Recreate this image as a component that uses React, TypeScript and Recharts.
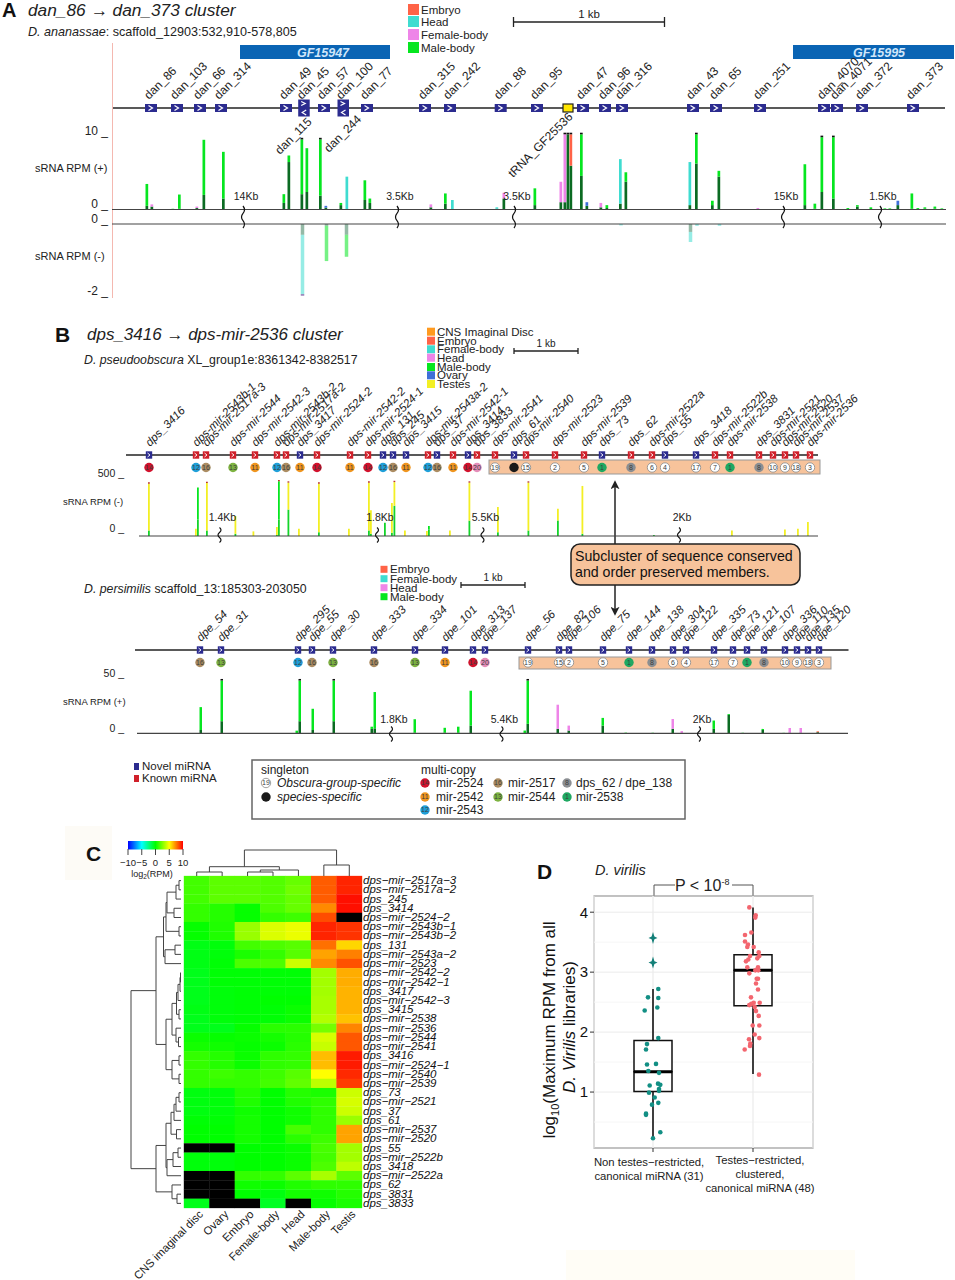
import {
  BarChart, Bar, Cell, ScatterChart, Scatter, XAxis, YAxis, ReferenceLine, CartesianGrid,
} from 'recharts';

// tissue colours, shared by the tracks and legends
const TISSUE: Record<string, string> = {
  C: '#ff9a1f', E: '#ff6347', H: '#3fdcd0', F: '#ee85e8', M: '#06e620', O: '#3f6fd8', T: '#f3ef24',
};
const codes = (s: string) => s.replace(/ /g, '').split('');

// ---- panel A, D. ananassae
const anaGeneNames = ['dan_86', 'dan_103', 'dan_66', 'dan_314', 'dan_49', 'dan_45', 'dan_57', 'dan_100', 'dan_77', 'dan_315', 'dan_242', 'dan_88', 'dan_95', '', 'dan_47', 'dan_96', 'dan_316', 'dan_43', 'dan_65', 'dan_251', 'dan_4070', 'dan_4071', 'dan_372', 'dan_373'];
const anaGenePos = [151, 177, 200, 221, 286, 303.7, 324, 343, 367, 425, 450, 500.7, 537, 568, 583, 605, 622, 693, 716, 760, 824, 837, 862, 913];
const anaGeneKind = codes('SSSSS DSDSS SSSYS SSSSS SSSS');

const anaPlusPos = [147, 152, 173, 179.5, 197, 204, 223.5, 284, 289, 302, 307, 320.5, 326, 341, 347, 365, 370, 431, 445.5, 452.5, 497, 504, 535, 561, 565, 568, 571, 581.5, 587, 601, 607, 620.5, 626, 690, 696.5, 712.5, 719, 758, 805, 815, 822, 833.5, 848, 857.5, 871, 898, 912, 925, 935, 885, 890, 918, 942];
const anaPlusPeak = [3.5, 0.7, 0.1, 2.05, 0.4, 9.55, 7.9, 2.1, 7.4, 9.6, 8.4, 9.6, 0.5, 0.9, 4.5, 4, 1.5, 0.7, 2.2, 1.3, 0.3, 2.3, 2.9, 3.8, 10.3, 10.3, 10.3, 10.3, 1, 0.9, 0.6, 6.9, 5.1, 6.5, 10.3, 1.2, 5.3, 0.2, 6.2, 0.8, 9.9, 9.9, 0.2, 0.6, 0.3, 1.2, 2.2, 0.3, 0.4, 0.15, 0.15, 0.2, 0.15];
const anaPlusBase = [0.5, 0.4, 0, 0.1, 0.2, 2, 1.5, 0.9, 6.5, 2.1, 2.4, 1.9, 0.25, 0.6, 0.05, 1.3, 0.9, 0.3, 0.8, 0, 0.1, 1.5, 0.6, 1, 1, 10.3, 6, 4.6, 0.5, 0.3, 0.2, 0.8, 3.8, 0.6, 6.3, 0.6, 4.5, 0, 0.6, 0.1, 2.4, 1.5, 0, 0.4, 0, 0.6, 0.1, 0.1, 0.1, 0, 0, 0, 0];
const anaPlusTissue = codes('MFMMF MMMMM MMOMH MMFMH HFMFF MEMOF MHMHM MMFMM MMMMM OMMM MMMM');

const anaMinusPos = [302, 326, 346, 620.5, 690, 696.5, 719];
const anaMinusPeak = [-1.95, -1.03, -0.91, -0.04, -0.5, -0.05, -0.05];
const anaMinusBase = [-0.3, -0.05, -0.3, 0, -0.22, 0, 0];
const anaMinusTissue = codes('HMMHHHH');

const anaBreakPos = [243, 397, 514, 783, 880];
const anaBreakLabels = ['14Kb', '3.5Kb', '3.5Kb', '15Kb', '1.5Kb'];

// ---- panel B, D. pseudoobscura
const pseGeneNames = ['dps_3416', 'dps-mir-2543b-1', 'dps-mir-2517a-3', 'dps-mir-2544', 'dps-mir-2542-3', 'dps-mir-2543b-2', 'dps-mir-2517a-2', 'dps_3417', 'dps-mir-2524-2', 'dps-mir-2542-2', 'dps-mir-2524-1', 'dps_131', 'dps_245', 'dps_3415', 'dps-mir-2543a-2', 'dps_37', 'dps-mir-2542-1', 'dps_3414', 'dps_3833', 'dps-mir-2541', 'dps_61', 'dps-mir-2540', 'dps-mir-2523', 'dps-mir-2539', 'dps_73', 'dps_62', 'dps-mir-2522a', 'dps_55', 'dps_3418', 'dps-mir-2522b', 'dps-mir-2538', 'dps_3831', 'dps-mir-2521', 'dps-mir-2520', 'dps-mir-2537', 'dps-mir-2536'];
const pseGenePos = [149, 196, 206, 233, 255, 277, 286, 300, 317, 350, 368, 383, 393, 406, 428, 437, 453, 468, 477, 495, 514, 526, 555, 584, 602, 631, 652, 665, 696, 715, 730, 759, 773, 785, 796, 810];
const pseGeneKind = codes('NKKKK KKNKK KNNNK NKNKK NKKKN KKNNK KKKKK K');
const pseBadges = [14, 12, 16, 13, 11, 12, 16, 11, 14, 11, 14, 12, 16, 11, 12, 16, 11, 14, 20, 19, 0, 15, 2, 5, 1, 8, 6, 4, 17, 7, 1, 8, 10, 9, 18, 3];

const psePos = [149, 196, 198, 207, 235.5, 253.5, 277, 279, 288.5, 299, 319, 349, 369, 371, 385, 392, 394.5, 405, 427, 429, 450, 469.5, 498, 528.5, 558, 582.5, 654, 732, 785, 798, 808];
const psePeak = [476, 67, 440, 482, 182, 42, 82, 497, 485, 67, 476, 67, 485, 233, 120, 300, 490, 50, 45, 90, 50, 485, 264, 485, 248, 455, 10, 50, 60, 67, 127];
const pseBase = [50, 0, 150, 50, 20, 0, 10, 150, 240, 0, 35, 0, 50, 20, 120, 30, 275, 0, 0, 60, 0, 140, 35, 50, 142, 20, 10, 5, 5, 5, 5];
const pseTissue = codes('TTMTT TTMTT TTTTM TTTTM TTTTT TMTTT T');
const pseBreakPos = [219.5, 377, 482.5, 679];
const pseBreakLabels = ['1.4Kb', '1.8Kb', '5.5Kb', '2Kb'];

// ---- panel B, D. persimilis
const perGeneNames = ['dpe_54', 'dpe_31', 'dpe_295', 'dpe_55', 'dpe_30', 'dpe_333', 'dpe_334', 'dpe_101', 'dpe_313', 'dpe_137', 'dpe_56', 'dpe_82', 'dpe_106', 'dpe_75', 'dpe_144', 'dpe_138', 'dpe_304', 'dpe_122', 'dpe_335', 'dpe_73', 'dpe_121', 'dpe_107', 'dpe_336', 'dpe_110', 'dpe_135', 'dpe_120'];
const perGenePos = [200, 221, 298, 312, 333, 374, 415, 445, 473, 485, 528, 559, 569, 603, 629, 652, 673, 686, 714, 733, 747, 764, 785, 797, 808, 819];
const perBadges = [16, 13, 12, 16, 13, 16, 13, 11, 14, 20, 19, 15, 2, 5, 1, 8, 6, 4, 17, 7, 1, 8, 10, 9, 18, 3];

const perPos = [201, 222, 297, 300, 313, 334, 372, 375, 415, 445, 458.5, 471, 525, 528, 558, 569, 603, 626, 653, 673, 682, 714, 729, 743, 763, 784, 790, 801, 818];
const perPeak = [23.8, 48, 2.4, 48, 22.3, 48, 6, 37.5, 12.8, 5, 6, 38.7, 2.5, 48, 26, 7, 14, 0.6, 0.5, 13, 2, 11.6, 17.5, 0.5, 4, 0.4, 4.8, 4.8, 1.8];
const perBase = [3, 11, 0, 11, 3, 11, 4, 4.5, 0.5, 0.5, 0.5, 7, 0, 8.6, 4, 2.5, 7, 0.3, 0.3, 4, 0.3, 4, 16.7, 0.3, 3, 0.2, 0.5, 0.5, 1];
const perTissue = codes('MMMMM MMMMM MMMMF FMMMF FMMMM MFFE');
const perBreakPos = [391, 501.5, 699];
const perBreakLabels = ['1.8Kb', '5.4Kb', '2Kb'];

// ---- panel C heat map
const heatRows = ['dps-mir-2517a-3', 'dps-mir-2517a-2', 'dps_245', 'dps_3414', 'dps-mir-2524-2', 'dps-mir-2543b-1', 'dps-mir-2543b-2', 'dps_131', 'dps-mir-2543a-2', 'dps-mir-2523', 'dps-mir-2542-2', 'dps-mir-2542-1', 'dps_3417', 'dps-mir-2542-3', 'dps_3415', 'dps-mir-2538', 'dps-mir-2536', 'dps-mir-2544', 'dps-mir-2541', 'dps_3416', 'dps-mir-2524-1', 'dps-mir-2540', 'dps-mir-2539', 'dps_73', 'dps-mir-2521', 'dps_37', 'dps_61', 'dps-mir-2537', 'dps-mir-2520', 'dps_55', 'dps-mir-2522b', 'dps_3418', 'dps-mir-2522a', 'dps_62', 'dps_3831', 'dps_3833'];
const heatCols = ['CNS imaginal disc', 'Ovary', 'Embryo', 'Female-body', 'Head', 'Male-body', 'Testis'];
const heatCns = [1.3, 1.3, 1.3, 1, 1, 0.1, 0.1, -0.4, -0.4, -0.4, -0.5, -0.5, -0.5, -0.5, -0.4, -0.5, -0.5, 0.2, 0.4, 1, 1, 1, 1, -0.3, -0.3, -0.3, -0.1, 0, 0, null, -0.2, -0.2, null, null, null, -0.5];
const heatOvary = [1.8, 1.8, 1.8, 0.7, 0.7, 0.6, 0.6, -0.2, -0.2, -0.1, -0.1, -0.1, -0.2, -0.2, -0.2, -0.2, -0.5, 0.1, 0.3, 0.7, 0.7, 1.2, 1, -0.2, -0.2, -0.2, -0.1, 0, 0, null, -0.2, -0.2, null, null, null, null];
const heatEmbryo = [1.8, 1.8, 1.8, 0.1, 0.1, 3, 3, 1.3, 0.5, 1.5, -0.1, -0.1, -0.1, -0.1, -0.1, -0.1, 0.1, 0.2, 0.1, 0.2, 0.2, 1, 1, 0.7, 0.6, 0.3, 0.4, 0.4, 0.4, 0, 0, 0, 1, 0.3, 0, null];
const heatFemale = [1.6, 1.6, 1.6, 1.5, 1, 4.3, 4.3, 1.5, 1, 1.5, -0.1, -0.1, -0.1, 0, -0.1, -0.1, 0.8, 0.4, 0.2, 0.9, 0.9, 1.2, 1.3, 0, 0, 0, 0, 0, 0, 0, 0, 0, 1, 0.2, -0.3, -0.7];
const heatHead = [2, 2.2, 2, 2, 1.2, 4.6, 4.6, 1.7, 1.7, 4, -0.1, -0.1, -0.1, 0, 0.2, 0.2, 0.8, 0.7, 0.8, 1, 1, 1.7, 1.9, 0.7, 0.6, 0.3, 0.3, 1.4, 0.8, 0.2, 0.2, 0.2, 1.8, 0.6, 0.4, null];
const heatMale = [8.2, 8.2, 8.2, 7.3, 8.5, 9.3, 9.3, 7.8, 6.8, 7.3, 3.2, 3.2, 3.2, 3.3, 3.3, 3.5, 2.3, 4.2, 3.9, 6.3, 6.3, 5, 3.7, 0.5, 0.9, 0.9, 0.9, 0.9, 1.2, 1.4, 1.3, 1.5, 3.3, 0.9, 0.3, 0.1];
const heatTestis = [9.3, 9.3, 9.7, 9.7, null, 9, 9, 5.8, 7.5, 8.4, 6.6, 6.6, 6.5, 6.5, 6.5, 6.2, 7.4, 8.3, 8.3, 9.5, 9.5, 9.2, 8.8, 4, 4.2, 4, 3, 6.8, 6.8, 3.2, 3.2, 3.7, 1.8, 0.9, 0.7, 0.5];
const heatColumns = [heatCns, heatOvary, heatEmbryo, heatFemale, heatHead, heatMale, heatTestis];

// dendrograms: [height, left, right], a bare number is a leaf index
type Tree = number | [number, Tree, Tree];
const rowTree: Tree = [50,
  [25,
    [17.5,
      [15, [14, [5, [2, 0, 1], 2], [7, 3, 4]], [2, 5, 6]],
      [16, [6, 7, 8], 9]],
    [15,
      [9, [4.5, [3, [1, [0.5, 10, 11], 12], 13], [2, 14, 15]], [5, 16, [2.5, 17, 18]]],
      [9, [2, 19, 20], [2, 21, 22]]]],
  [25,
    [15,
      [10, [7, [5, [2, 23, 24], 25], 26], [4.5, 27, 28]],
      [14, [8, [3, 29, 30], 31], 32]],
    [9, 33, [4, 34, 35]]]];
const colTree: Tree = [26, [9.3, [4, 0, 1], [6, [4, 2, 3], 4]], [11, 5, 6]];

// ---- panel D box plot
const boxX = [1, 2];
const boxQ1 = [1.01, 2.44];
const boxMedian = [1.34, 3.03];
const boxQ3 = [1.86, 3.29];
const whiskerLow = [0.2, 1.3];
const whiskerHigh = [2.72, 4.08];
const nonTestesX = [1.053, 0.95, 1.053, 1.043, 0.917, 1.053, 0.94, 0.93, 0.94, 1.03, 0.953, 1.06, 1.05, 1.073, 0.967, 1.06, 1.06, 0.96, 1.017, 1.053, 0.99, 0.93, 0.93, 1.073, 1.0];
const nonTestesY = [2.72, 2.58, 2.57, 2.41, 2.36, 1.9, 1.8, 1.71, 1.46, 1.47, 1.35, 1.32, 1.14, 1.12, 1.11, 1.05, 1.02, 0.99, 0.91, 0.82, 0.79, 0.64, 0.62, 0.33, 0.23];
const outlierY = [3.57, 3.16];
const testesX = [1.963, 2.027, 2.023, 1.983, 1.92, 1.92, 1.95, 1.943, 2.007, 2.057, 1.97, 2.063, 2.043, 1.93, 1.953, 1.943, 2.05, 2.023, 2.053, 1.963, 2.037, 2.05, 2.03, 2.05, 1.98, 2.067, 2.007, 1.983, 1.963, 2.017, 2.03, 2.057, 1.997, 2.063, 2.017, 2.063, 1.96, 1.973, 1.97, 1.917, 2.06];
const testesY = [4.08, 3.95, 3.91, 3.66, 3.62, 3.51, 3.46, 3.42, 3.42, 3.33, 3.27, 3.27, 3.23, 3.18, 3.21, 3.08, 3.08, 3.03, 3.03, 2.98, 2.89, 2.89, 2.81, 2.71, 2.58, 2.49, 2.49, 2.47, 2.45, 2.42, 2.35, 2.27, 2.11, 2.11, 1.96, 1.9, 1.88, 1.81, 1.77, 1.71, 1.29];
const boxLabels = [
  ['Non testes−restricted,', 'canonical miRNA (31)'],
  ['Testes−restricted,', 'clustered,', 'canonical miRNA (48)'],
];

// ---- helpers
const NOMARGIN = { top: 0, right: 0, bottom: 0, left: 0 };
const BADGE: Record<number, string> = { 14: '#d2112c', 12: '#1f9fd8', 16: '#ab8c62', 13: '#7db341', 11: '#ef951f', 20: '#e48db8', 1: '#1fa862', 8: '#8b8e92', 0: '#1a1a1a' };

function Badge({ cx, cy, n, r = 4.7 }: { cx: number; cy: number; n: number; r?: number }) {
  const fill = BADGE[n];
  return (
    <g>
      <circle cx={cx} cy={cy} r={r} fill={fill || '#fff'} stroke={fill ? 'none' : '#888'} strokeWidth={0.8} />
      {n !== 0 && <text x={cx} y={cy + 2.4} textAnchor="middle" fontSize={7} fill="#3c3c3c">{n}</text>}
    </g>
  );
}

function GeneRow({ y, pos, names, kinds, badges, from, to, big }: any) {
  const rows = pos.map((x: number, i: number) => ({ x, y: 0, name: names[i], kind: kinds[i], badge: badges ? badges[i] : null }));
  const H = 240;
  const draw = (p: any) => {
    const { cx, cy, payload: d } = p;
    const italic = big ? 'normal' : 'italic';
    const lx = big ? cx - 2 : cx + 1;
    const ly = cy - 8;
    let box;
    if (big) {
      if (d.kind === 'Y') {
        box = <rect x={cx - 5} y={cy - 4} width={10} height={8} fill="#ffe600" stroke="#222" strokeWidth={1.2} />;
      } else if (d.kind === 'D') {
        box = (
          <g>
            <rect x={cx - 5.5} y={cy - 8.5} width={11.5} height={17} fill="#2b2b8f" />
            <path d={`M${cx - 2.5} ${cy - 6.5}l4 2l-4 2`} fill="none" stroke="#fff" strokeWidth={1.2} />
            <path d={`M${cx + 2.5} ${cy + 2}l-4 2.5l4 2.5`} fill="none" stroke="#fff" strokeWidth={1.2} />
          </g>
        );
      } else {
        box = (
          <g>
            <rect x={cx - 6} y={cy - 4} width={12} height={8} fill="#2b2b8f" />
            <path d={`M${cx - 2.5} ${cy - 2.5}l4 2.5l-4 2.5`} fill="none" stroke="#fff" strokeWidth={1.2} />
          </g>
        );
      }
    } else {
      box = (
        <g>
          <rect x={cx - 3.2} y={cy - 3.7} width={6.4} height={7.4} fill={d.kind === 'N' ? '#2b2b8f' : '#d0202a'} />
          <path d={`M${cx - 1.5} ${cy - 2}l2.5 2l-2.5 2`} fill="none" stroke="#fff" strokeWidth={0.9} />
        </g>
      );
    }
    return (
      <g>
        {box}
        <text x={lx} y={ly} fontSize={big ? 12 : 11.5} fontStyle={italic} fill="#222" transform={`rotate(-45 ${lx} ${ly})`}>{d.name}</text>
        {d.badge !== null && <Badge cx={cx} cy={cy + 12.5} n={d.badge} />}
      </g>
    );
  };
  return (
    <div style={{ position: 'absolute', left: 0, top: y - H / 2 }}>
      <ScatterChart width={955} height={H} margin={NOMARGIN}>
        <XAxis type="number" dataKey="x" domain={[0, 955]} hide />
        <YAxis type="number" dataKey="y" domain={[-1, 1]} hide width={0} />
        <ReferenceLine segment={[{ x: from, y: 0 }, { x: to, y: 0 }]} stroke="#222" strokeWidth={1.5} ifOverflow="visible" />
        <Scatter data={rows} isAnimationActive={false} shape={draw} />
      </ScatterChart>
    </div>
  );
}

function Track({ top, bottom, zeroY, ppu, left, ticks, tickDx, tickDy, tickSize, pos, peak, base, tissue, barSize, baseFill, capAt, capSize, capFill, from, to, opacity = 1 }: any) {
  const rows = pos.map((x: number, i: number) => ({
    x,
    base: base[i],
    rest: peak[i] - base[i],
    cap: Math.abs(peak[i]) >= capAt ? Math.sign(peak[i]) * capSize : 0,
    tissue: tissue[i],
  }));
  const tick = (p: any) => (
    <text x={p.x + tickDx} y={p.y + tickDy} textAnchor="end" fontSize={tickSize} fill="#222">{`${p.payload.value} _`}</text>
  );
  return (
    <div style={{ position: 'absolute', left: 0, top }}>
      <BarChart width={955} height={bottom - top} data={rows} margin={NOMARGIN} barSize={barSize}>
        <XAxis type="number" dataKey="x" domain={[left, 955]} hide />
        <YAxis type="number" width={left} domain={[(zeroY - bottom) / ppu, (zeroY - top) / ppu]} ticks={ticks} interval={0} axisLine={false} tickLine={false} tick={tick} />
        <Bar dataKey="base" stackId="s" fill={baseFill} fillOpacity={opacity} isAnimationActive={false} />
        <Bar dataKey="rest" stackId="s" fillOpacity={opacity} isAnimationActive={false}>
          {rows.map((r: any, i: number) => <Cell key={i} fill={TISSUE[r.tissue]} />)}
        </Bar>
        <Bar dataKey="cap" stackId="s" fill={capFill} isAnimationActive={false} />
        <ReferenceLine segment={[{ x: from, y: 0 }, { x: to, y: 0 }]} stroke="#444" strokeWidth={1.2} ifOverflow="visible" />
      </BarChart>
    </div>
  );
}

function Breaks({ y, pos, labels, tall, labelDy, labelDx = 3 }: any) {
  const rows = pos.map((x: number, i: number) => ({ x, y: 0, label: labels[i] }));
  const H = 80;
  const draw = (p: any) => {
    const { cx, cy, payload } = p;
    const seg = tall / 3;
    return (
      <g>
        <path d={`M${cx} ${cy - tall / 2}q3 ${seg / 2} 0 ${seg}q-3 ${seg / 2} 0 ${seg}q3 ${seg / 2} 0 ${seg}`} fill="none" stroke="#111" strokeWidth={1.2} />
        <text x={cx + labelDx} y={cy + labelDy} textAnchor="middle" fontSize={10.5} fill="#222">{payload.label}</text>
      </g>
    );
  };
  return (
    <div style={{ position: 'absolute', left: 0, top: y - H / 2 }}>
      <ScatterChart width={955} height={H} margin={NOMARGIN}>
        <XAxis type="number" dataKey="x" domain={[0, 955]} hide />
        <YAxis type="number" dataKey="y" domain={[-1, 1]} hide width={0} />
        <Scatter data={rows} isAnimationActive={false} shape={draw} />
      </ScatterChart>
    </div>
  );
}

// log2(RPM) colour key: blue, cyan, green, yellow, red
const RAMP = [[0, 0, 255], [0, 255, 255], [0, 255, 0], [255, 255, 0], [255, 0, 0]];
function heatColor(v: number | null) {
  if (v === null) return '#000';
  const t = Math.min(3.999, (v + 10) / 5);
  const i = Math.floor(t);
  const f = t - i;
  const c = RAMP[i].map((a, k) => Math.round(a + (RAMP[i + 1][k] - a) * f));
  return `rgb(${c.join(',')})`;
}

function treeLinks(tree: Tree) {
  const out: { pos: number; h: number }[][] = [];
  const walk = (n: Tree): { pos: number; h: number } => {
    if (typeof n === 'number') return { pos: n + 0.5, h: 0 };
    const a = walk(n[1]);
    const b = walk(n[2]);
    out.push([a, { pos: a.pos, h: n[0] }, { pos: b.pos, h: n[0] }, b]);
    return { pos: (a.pos + b.pos) / 2, h: n[0] };
  };
  walk(tree);
  return out;
}

const noDot = () => <g />;

function HeatMap() {
  const cells = heatColumns.flatMap((vals, c) => vals.map((v, r) => ({ col: c + 0.5, row: r + 0.5, v })));
  const rowTick = (p: any) => (
    <text x={p.x - 7} y={p.y + 3.5} fontSize={11.5} fontStyle="italic" fill="#111">{heatRows[Math.floor(p.payload.value)].replace(/-/g, '−')}</text>
  );
  const colTick = (p: any) => (
    <text x={p.x + 7} y={p.y - 1} fontSize={11.3} textAnchor="end" fill="#222" transform={`rotate(-45 ${p.x + 7} ${p.y - 1})`}>{heatCols[Math.floor(p.payload.value)]}</text>
  );
  const cell = (p: any) => (
    <rect x={p.cx - 12.9} y={p.cy - 4.75} width={25.8} height={9.5} fill={heatColor(p.payload.v)} />
  );
  return (
    <div style={{ position: 'absolute', left: 83.5, top: 868 }}>
      <ScatterChart width={378} height={420} margin={{ top: 8, right: 0, bottom: 0, left: 100 }}>
        <XAxis type="number" dataKey="col" domain={[0, 7]} ticks={heatCols.map((_, i) => i + 0.5)} interval={0} height={80} axisLine={false} tickLine={false} tick={colTick} />
        <YAxis type="number" dataKey="row" orientation="right" reversed domain={[0, 36]} ticks={heatRows.map((_, i) => i + 0.5)} interval={0} width={100} axisLine={false} tickLine={false} tick={rowTick} />
        <Scatter data={cells} isAnimationActive={false} shape={cell} />
      </ScatterChart>
    </div>
  );
}

function Dendrograms() {
  const rowLinks = treeLinks(rowTree);
  const colLinks = treeLinks(colTree);
  const line = { stroke: '#444', strokeWidth: 1 };
  return (
    <>
      <div style={{ position: 'absolute', left: 129, top: 876 }}>
        <ScatterChart width={52} height={332} margin={NOMARGIN}>
          <XAxis type="number" dataKey="h" domain={[0, 52]} reversed hide />
          <YAxis type="number" dataKey="pos" domain={[0, 36]} reversed hide width={0} />
          {rowLinks.map((l, i) => <Scatter key={i} data={l} line={line} shape={noDot} isAnimationActive={false} />)}
        </ScatterChart>
      </div>
      <div style={{ position: 'absolute', left: 183.5, top: 849 }}>
        <ScatterChart width={178} height={27} margin={NOMARGIN}>
          <XAxis type="number" dataKey="pos" domain={[0, 7]} hide />
          <YAxis type="number" dataKey="h" domain={[0, 27]} hide width={0} />
          {colLinks.map((l, i) => <Scatter key={i} data={l} line={line} shape={noDot} isAnimationActive={false} />)}
        </ScatterChart>
      </div>
    </>
  );
}

const BOX_X_DOMAIN = [0.41, 2.6];
const BOX_Y_DOMAIN = [0.067, 4.27];
const BOX_W = 303;
const BOX_H = 312;

// three layers on the same scales: grid + whiskers, boxes, medians + points
function BoxPlot() {
  const rows = boxX.map((x, i) => ({ x, base: boxQ1[i], low: boxMedian[i] - boxQ1[i], high: boxQ3[i] - boxMedian[i] }));
  const inner = { top: 0, right: 30, bottom: 60, left: 54 };
  const xTick = (p: any) => {
    const i = p.payload.value - 1;
    const cx = p.x + (i === 0 ? -4 : 7);
    return (
      <g>
        <line x1={p.x} x2={p.x} y1={p.y - 8} y2={p.y - 4} stroke="#333" />
        {boxLabels[i].map((t, k) => (
          <text key={k} x={cx} y={p.y + (i === 0 ? 10 : 8) + k * 14} textAnchor="middle" fontSize={11.3} fill="#222">{t}</text>
        ))}
      </g>
    );
  };
  const dot = (fill: string) => (p: any) => <circle cx={p.cx} cy={p.cy} r={2.3} fill={fill} />;
  const star = (p: any) => (
    <path d={`M${p.cx} ${p.cy - 6}L${p.cx + 1.4} ${p.cy - 1.4}L${p.cx + 4.5} ${p.cy}L${p.cx + 1.4} ${p.cy + 1.4}L${p.cx} ${p.cy + 6}L${p.cx - 1.4} ${p.cy + 1.4}L${p.cx - 4.5} ${p.cy}L${p.cx - 1.4} ${p.cy - 1.4}Z`} fill="#137f78" />
  );
  const layer = { position: 'absolute', left: 540, top: 896 } as const;
  return (
    <>
      <div style={layer}>
        <ScatterChart width={BOX_W} height={BOX_H} margin={{ top: 0, right: 30, bottom: 0, left: 0 }}>
          <CartesianGrid horizontalValues={[0.5, 1.5, 2.5, 3.5]} verticalValues={[]} stroke="#f6f6f6" />
          <CartesianGrid horizontalValues={[1, 2, 3, 4]} verticalValues={[1, 2]} stroke="#ebebeb" />
          <XAxis type="number" dataKey="x" domain={BOX_X_DOMAIN} ticks={[1, 2]} height={60} axisLine={false} tickLine={false} tick={xTick} />
          <YAxis type="number" dataKey="y" domain={BOX_Y_DOMAIN} ticks={[1, 2, 3, 4]} width={54} axisLine={false} tickSize={4} tick={{ fontSize: 15, fill: '#111' }} stroke="#333" />
          {boxX.map((x, i) => (
            <Scatter key={i} data={[{ x, y: whiskerLow[i] }, { x, y: whiskerHigh[i] }]} line={{ stroke: '#111', strokeWidth: 1.6 }} shape={noDot} isAnimationActive={false} />
          ))}
        </ScatterChart>
      </div>
      <div style={layer}>
        <BarChart width={BOX_W} height={BOX_H} data={rows} margin={inner} barSize={38}>
          <XAxis type="number" dataKey="x" domain={BOX_X_DOMAIN} hide />
          <YAxis type="number" domain={BOX_Y_DOMAIN} hide allowDataOverflow />
          <Bar dataKey="base" stackId="b" fill="none" isAnimationActive={false} />
          <Bar dataKey="low" stackId="b" fill="#fff" stroke="#111" strokeWidth={1.5} isAnimationActive={false} />
          <Bar dataKey="high" stackId="b" fill="#fff" stroke="#111" strokeWidth={1.5} isAnimationActive={false} />
        </BarChart>
      </div>
      <div style={layer}>
        <ScatterChart width={BOX_W} height={BOX_H} margin={inner}>
          <XAxis type="number" dataKey="x" domain={BOX_X_DOMAIN} hide />
          <YAxis type="number" dataKey="y" domain={BOX_Y_DOMAIN} hide />
          {boxX.map((x, i) => (
            <Scatter key={i} data={[{ x: x - 0.19, y: boxMedian[i] }, { x: x + 0.19, y: boxMedian[i] }]} line={{ stroke: '#000', strokeWidth: 3 }} shape={noDot} isAnimationActive={false} />
          ))}
          <Scatter data={nonTestesX.map((x, i) => ({ x, y: nonTestesY[i] }))} shape={dot('#128f84')} isAnimationActive={false} />
          <Scatter data={outlierY.map((y) => ({ x: 1, y }))} shape={star} isAnimationActive={false} />
          <Scatter data={testesX.map((x, i) => ({ x, y: testesY[i] }))} shape={dot('#f3666f')} isAnimationActive={false} />
        </ScatterChart>
      </div>
    </>
  );
}

function Legend({ x, tx, ys, names, keys, s, size }: any) {
  return (
    <g>
      {names.map((n: string, i: number) => (
        <g key={n}>
          <rect x={x} y={ys[i] - s / 2} width={s} height={s} fill={TISSUE[keys[i]]} />
          <text x={tx} y={ys[i] + 4} fontSize={size} fill="#222">{n}</text>
        </g>
      ))}
    </g>
  );
}

function ScaleBar({ x1, x2, y, tick, size }: any) {
  return (
    <g stroke="#222" strokeWidth={1.3}>
      <line x1={x1} x2={x2} y1={y} y2={y} />
      <line x1={x1} x2={x1} y1={y - tick} y2={y + tick} />
      <line x1={x2} x2={x2} y1={y - tick} y2={y + tick} />
      <text x={(x1 + x2) / 2} y={y - 4} textAnchor="middle" fontSize={size} fill="#222" stroke="none">1 kb</text>
    </g>
  );
}

function Annotations() {
  const rotated = (x: number, y: number, t: string, size = 12) => (
    <text x={x} y={y} fontSize={size} fill="#222" transform={`rotate(-45 ${x} ${y})`}>{t}</text>
  );
  return (
    <svg width={955} height={1280} style={{ position: 'absolute', left: 0, top: 0 }}>
      <defs>
        <linearGradient id="ramp">
          <stop offset="0" stopColor="#0000ff" />
          <stop offset="0.25" stopColor="#00ffff" />
          <stop offset="0.5" stopColor="#00ff00" />
          <stop offset="0.75" stopColor="#ffff00" />
          <stop offset="1" stopColor="#ff0000" />
        </linearGradient>
        <marker id="arrow" viewBox="0 0 10 10" refX="8" refY="5" markerWidth="6" markerHeight="6" orient="auto">
          <path d="M0 0L10 5L0 10L2.5 5Z" fill="#222" />
        </marker>
      </defs>

      {/* faint paper patches in the scan */}
      <rect x={65} y={826} width={47} height={54} fill="#fdfbf6" />
      <rect x={566} y={1250} width={289} height={30} fill="#fffdf6" />

      {/* panel A */}
      <text x={2} y={17} fontSize={20} fontWeight="bold" fill="#111">A</text>
      <text x={28} y={16} fontSize={17.3} fontStyle="italic" fill="#222">dan_86 → dan_373 cluster</text>
      <text x={28} y={36} fontSize={12.6} fill="#222"><tspan fontStyle="italic">D. ananassae</tspan>: scaffold_12903:532,910-578,805</text>
      <Legend x={408} tx={421} ys={[9.5, 21.5, 34.5, 47.5]} names={['Embryo', 'Head', 'Female-body', 'Male-body']} keys={['E', 'H', 'F', 'M']} s={11} size={11.5} />
      <ScaleBar x1={513.5} x2={664.5} y={22} tick={5} size={11.5} />
      <rect x={240} y={45} width={150} height={14} fill="#0a64b4" />
      <text x={323} y={57} fontSize={12.5} fontWeight="bold" fontStyle="italic" fill="#cfe6fa" textAnchor="middle">GF15947</text>
      <rect x={793} y={45} width={161} height={14} fill="#0a64b4" />
      <text x={879} y={57} fontSize={12.5} fontWeight="bold" fontStyle="italic" fill="#cfe6fa" textAnchor="middle">GF15995</text>
      <line x1={112.5} x2={112.5} y1={43} y2={298} stroke="#f4b8b0" strokeWidth={1} />
      <text x={35} y={172} fontSize={11} fill="#222">sRNA RPM (+)</text>
      <text x={35} y={260} fontSize={11} fill="#222">sRNA RPM (-)</text>
      {rotated(280, 155, 'dan_115')}
      {rotated(329, 153, 'dan_244')}
      {rotated(513, 178, 'tRNA_GF25536')}

      {/* panel B */}
      <text x={55} y={342} fontSize={21} fontWeight="bold" fill="#111">B</text>
      <text x={87} y={340} fontSize={17} fontStyle="italic" fill="#222">dps_3416 → dps-mir-2536 cluster</text>
      <text x={84} y={364} fontSize={12.3} fill="#222"><tspan fontStyle="italic">D. pseudoobscura</tspan>  XL_group1e:8361342-8382517</text>
      <Legend x={427} tx={437} ys={[331.7, 340.7, 349.3, 357.7, 367, 375.3, 384]} names={['CNS Imaginal Disc', 'Embryo', 'Female-body', 'Head', 'Male-body', 'Ovary', 'Testes']} keys={['C', 'E', 'H', 'F', 'M', 'O', 'T']} s={8} size={11.5} />
      <ScaleBar x1={514} x2={578} y={351} tick={3} size={10} />
      <rect x={489} y={460} width={331} height={14} fill="#f7c39b" stroke="#999" />
      <text x={63} y={505} fontSize={9.5} fill="#222">sRNA RPM (-)</text>
      <text x={84} y={593} fontSize={12.3} fill="#222"><tspan fontStyle="italic">D. persimilis</tspan>   scaffold_13:185303-203050</text>
      <Legend x={380.5} tx={390} ys={[569.3, 578.7, 587.7, 596.7]} names={['Embryo', 'Female-body', 'Head', 'Male-body']} keys={['E', 'H', 'F', 'M']} s={7} size={11.5} />
      <ScaleBar x1={461} x2={525} y={585} tick={3} size={10} />
      <rect x={519} y={657} width={312} height={12} fill="#f7c39b" stroke="#999" />
      <text x={63} y={705} fontSize={9.5} fill="#222">sRNA RPM (+)</text>

      <rect x={571} y={544} width={229} height={41} rx={9} fill="#f7c39b" stroke="#222" strokeWidth={1.5} />
      <text x={575} y={561} fontSize={14.2} fill="#111">Subcluster of sequence conserved</text>
      <text x={575} y={577} fontSize={14.2} fill="#111">and order preserved members.</text>
      <line x1={615} x2={615} y1={544} y2={482} stroke="#222" strokeWidth={1.5} markerEnd="url(#arrow)" />
      <line x1={615} x2={615} y1={585} y2={614} stroke="#222" strokeWidth={1.5} markerEnd="url(#arrow)" />

      <rect x={134} y={763} width={5} height={7} fill="#2b2b8f" />
      <text x={142} y={770} fontSize={11.5} fill="#222">Novel miRNA</text>
      <rect x={134} y={775} width={5} height={7} fill="#d0202a" />
      <text x={142} y={782} fontSize={11.5} fill="#222">Known miRNA</text>

      <rect x={252} y={760} width={433} height={59} fill="none" stroke="#666" strokeWidth={1.5} />
      <text x={261} y={774} fontSize={12} fill="#222">singleton</text>
      <Badge cx={266} cy={783} n={19} />
      <text x={277} y={787} fontSize={12} fontStyle="italic" fill="#222">Obscura-group-specific</text>
      <Badge cx={266} cy={797} n={0} />
      <text x={277} y={801} fontSize={12} fontStyle="italic" fill="#222">species-specific</text>
      <text x={421} y={774} fontSize={12} fill="#222">multi-copy</text>
      <Badge cx={425} cy={783} n={14} />
      <text x={436} y={787} fontSize={12} fill="#222">mir-2524</text>
      <Badge cx={425} cy={797} n={11} />
      <text x={436} y={801} fontSize={12} fill="#222">mir-2542</text>
      <Badge cx={425} cy={810} n={12} />
      <text x={436} y={814} fontSize={12} fill="#222">mir-2543</text>
      <Badge cx={498} cy={783} n={16} />
      <text x={508} y={787} fontSize={12} fill="#222">mir-2517</text>
      <Badge cx={498} cy={797} n={13} />
      <text x={508} y={801} fontSize={12} fill="#222">mir-2544</text>
      <Badge cx={567} cy={783} n={8} />
      <text x={576} y={787} fontSize={12} fill="#222">dps_62 / dpe_138</text>
      <Badge cx={567} cy={797} n={1} />
      <text x={576} y={801} fontSize={12} fill="#222">mir-2538</text>

      {/* panel C key */}
      <text x={86} y={861} fontSize={21} fontWeight="bold" fill="#111">C</text>
      <rect x={128} y={841} width={55} height={8.5} fill="url(#ramp)" />
      {[-10, -5, 0, 5, 10].map((v, i) => (
        <g key={v}>
          <line x1={128 + i * 13.75} x2={128 + i * 13.75} y1={849} y2={855} stroke="#444" />
          <text x={128 + i * 13.75} y={866} fontSize={9.5} textAnchor="middle" fill="#222">{v < 0 ? `−${-v}` : v}</text>
        </g>
      ))}
      <text x={152} y={877} fontSize={9} textAnchor="middle" fill="#222">log<tspan fontSize={6.5} dy={2}>2</tspan><tspan dy={-2}>(RPM)</tspan></text>

      {/* panel D */}
      <text x={537} y={879} fontSize={21} fontWeight="bold" fill="#111">D</text>
      <text x={595} y={875} fontSize={14.5} fontStyle="italic" fill="#222">D. virilis</text>
      <path d="M654 896V885H675M732 885H753V896" fill="none" stroke="#555" strokeWidth={1} />
      <text x={675} y={891} fontSize={16} fill="#222">P &lt; 10<tspan fontSize={9} dy={-6}>-8</tspan></text>
      <rect x={594} y={896} width={219} height={252} fill="none" stroke="#999" strokeWidth={1.2} />
      <text transform="translate(555 1030) rotate(-90)" textAnchor="middle" fontSize={17} fill="#111">log<tspan fontSize={11} dy={4}>10</tspan><tspan dy={-4}>(Maximum RPM from all</tspan></text>
      <text transform="translate(575 1027) rotate(-90)" textAnchor="middle" fontSize={17} fill="#111"><tspan fontStyle="italic">D. Virilis</tspan> libraries)</text>
    </svg>
  );
}

export default function App() {
  return (
    <div style={{ position: 'absolute', left: 0, top: 0, width: 955, height: 1280, fontFamily: '"Liberation Sans", Arial, sans-serif', background: '#fff' }}>
      <Annotations />

      <GeneRow y={108} pos={anaGenePos} names={anaGeneNames} kinds={anaGeneKind} from={113} to={945} big />
      <Track top={125} bottom={214} zeroY={209.5} ppu={7.3} left={112} ticks={[0, 10]} tickDx={4} tickDy={-1.5} tickSize={12} pos={anaPlusPos} peak={anaPlusPeak} base={anaPlusBase} tissue={anaPlusTissue} barSize={3.5} baseFill="#0b6b22" capAt={9.6} capSize={0.22} capFill="#111" from={112} to={946} />
      <Track top={205} bottom={305} zeroY={224} ppu={36} left={112} ticks={[0, -2]} tickDx={4} tickDy={-1.5} tickSize={12} pos={anaMinusPos} peak={anaMinusPeak} base={anaMinusBase} tissue={anaMinusTissue} barSize={3.5} baseFill="#3d7f5c" capAt={1.9} capSize={0.04} capFill="#8a6fb0" from={112} to={946} opacity={0.55} />
      <Breaks y={217} pos={anaBreakPos} labels={anaBreakLabels} tall={22} labelDy={-17} />

      <GeneRow y={455} pos={pseGenePos} names={pseGeneNames} kinds={pseGeneKind} badges={pseBadges} from={126} to={818} />
      <Track top={460} bottom={540} zeroY={536} ppu={0.11} left={126} ticks={[0, 500]} tickDx={6} tickDy={-4.5} tickSize={10.5} pos={psePos} peak={psePeak} base={pseBase} tissue={pseTissue} barSize={2.5} baseFill="#14d42a" capAt={470} capSize={12} capFill="#b8322a" from={139} to={818} />
      <Breaks y={535} pos={pseBreakPos} labels={pseBreakLabels} tall={15} labelDy={-14} />

      <GeneRow y={650} pos={perGenePos} names={perGeneNames} kinds={perGeneNames.map(() => 'N')} badges={perBadges} from={135} to={848.5} />
      <Track top={660} bottom={740} zeroY={733.3} ppu={1.1} left={127} ticks={[0, 50]} tickDx={5} tickDy={-1.5} tickSize={10.5} pos={perPos} peak={perPeak} base={perBase} tissue={perTissue} barSize={2.5} baseFill="#0b6b22" capAt={47} capSize={1.4} capFill="#111" from={137} to={848} />
      <Breaks y={734} pos={perBreakPos} labels={perBreakLabels} tall={15} labelDy={-11} />

      <HeatMap />
      <Dendrograms />
      <BoxPlot />
    </div>
  );
}
